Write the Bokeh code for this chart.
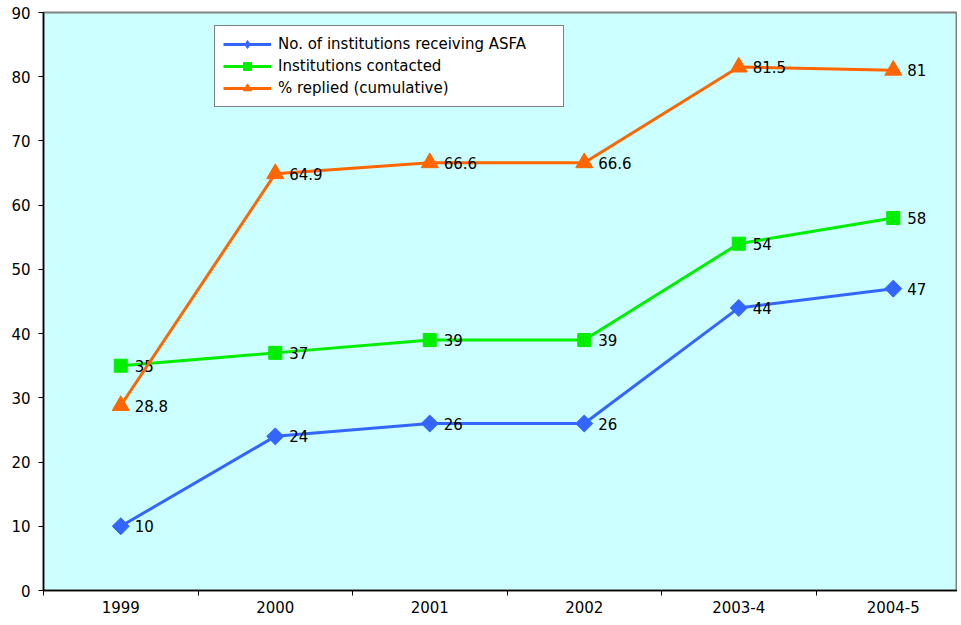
import math
from bokeh.plotting import figure
from bokeh.models import (Range1d, FixedTicker, Legend, LegendItem, ColumnDataSource)
from bokeh.core.properties import value
from bokeh.embed import file_html
from bokeh.resources import INLINE

categories = ["1999", "2000", "2001", "2002", "2003-4", "2004-5"]
asfa = [10, 24, 26, 26, 44, 47]
contacted = [35, 37, 39, 39, 54, 58]
replied = [28.8, 64.9, 66.6, 66.6, 81.5, 81]
y_ticks = [0, 10, 20, 30, 40, 50, 60, 70, 80, 90]

FONT = "DejaVu Sans"
xs = [i + 0.5 for i in range(len(categories))]

W = 957
p = figure(width=W, height=618, output_backend="svg", toolbar_location=None,
           x_range=Range1d(0, (W - 43) / 154.5), y_range=Range1d(0, 90),
           min_border_left=43, min_border_top=12, min_border_right=0, min_border_bottom=28)
p.background_fill_color = "#CCFFFF"
p.border_fill_color = "white"
p.outline_line_color = "#808080"
p.outline_line_width = 2
p.xgrid.visible = False
p.ygrid.visible = False

p.xaxis.ticker = FixedTicker(ticks=xs, minor_ticks=list(range(0, 7)))
p.xaxis.major_label_overrides = {x: c for x, c in zip(xs, categories)}
p.xaxis.major_tick_out = 0
p.xaxis.major_tick_in = 0
p.xaxis.minor_tick_out = 5
p.xaxis.minor_tick_in = 0
p.xaxis.major_label_standoff = 5
p.yaxis.ticker = FixedTicker(ticks=y_ticks)
p.yaxis.major_tick_out = 5
p.yaxis.major_tick_in = 0
p.yaxis.minor_tick_out = 0
p.yaxis.minor_tick_in = 0
p.yaxis.major_label_standoff = 8
for ax in (p.xaxis, p.yaxis):
    ax.axis_line_color = "black"
    ax.axis_line_width = 1.5
    ax.major_tick_line_color = "black"
    ax.minor_tick_line_color = "black"
    ax.major_label_text_font = FONT
    ax.major_label_text_font_size = "15px"
    ax.major_label_text_color = "black"

series = [
    ("No. of institutions receiving ASFA", asfa, "#3366FF", "square", 12, math.pi / 4, "diamond"),
    ("Institutions contacted", contacted, "#00EE00", "square", 13, 0, "square"),
    ("% replied (cumulative)", replied, "#FF6600", "triangle", 17, 0, "triangle"),
]
items = []
for label, vals, color, marker, size, ang, leg_marker in series:
    src = ColumnDataSource(dict(x=xs, y=vals, t=[str(v) for v in vals]))
    l = p.line("x", "y", source=src, line_color=color, line_width=3)
    p.scatter("x", "y", source=src, marker=marker, size=size, angle=ang,
              fill_color=color, line_color=color)
    p.text("x", "y", text="t", source=src, x_offset=14, text_baseline="middle",
           text_font=value(FONT), text_font_size="15px", text_color="black")
    # legend-only marker (placed outside the visible range)
    dummy = p.scatter(x=[0.5], y=[-1000], marker=leg_marker, size=size,
                      fill_color=color, line_color=color)
    items.append(LegendItem(label=label, renderers=[l, dummy]))

legend = Legend(items=items, location=(171, 483), glyph_width=48, glyph_height=20,
                label_standoff=7, spacing=2, padding=8, margin=0,
                label_text_font=FONT, label_text_font_size="15px",
                label_text_color="black", border_line_color="black",
                border_line_width=1.5, background_fill_color="white",
                background_fill_alpha=1.0)
legend.label_width = 277
p.add_layout(legend, "center")

open("out.html", "w").write(file_html(p, INLINE))
